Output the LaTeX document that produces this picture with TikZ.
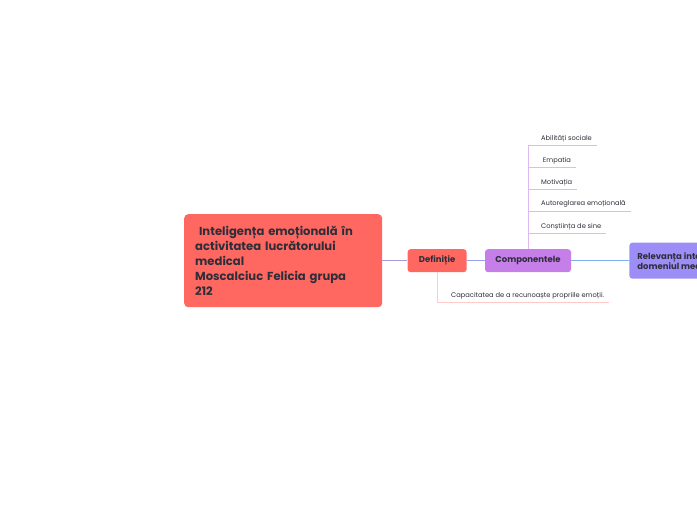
\documentclass[tikz,border=0pt]{standalone}
\usepackage{fontspec}
\setmainfont{Poppins}
\usetikzlibrary{positioning}
\definecolor{coral}{HTML}{FF6861}
\definecolor{orchid}{HTML}{C67EE8}
\definecolor{violet}{HTML}{9D8DF7}
\definecolor{ink}{HTML}{2E2E3A}
\definecolor{lavender}{HTML}{A99BDA}
\definecolor{periwinkle}{HTML}{92A4F2}
\definecolor{skyline}{HTML}{7FB2F0}
\tikzset{
  % Topic boxes
  maintopic/.style={
    fill=coral, rounded corners=4pt, text=ink, align=left,
    font=\bfseries\fontsize{11.6}{15}\selectfont,
    text width=176pt, inner xsep=11pt,
    minimum width=198pt, minimum height=93pt
  },
  subtopic/.style={
    rounded corners=3pt, text=ink, align=center,
    font=\bfseries\fontsize{8.5}{10}\selectfont,
    minimum height=23pt, inner xsep=6pt
  },
  % Leaf texts on an underline
  leaf/.style={
    anchor=south west, text=ink, inner xsep=0pt, inner ysep=3pt,
    font=\fontsize{6.7}{8}\selectfont
  },
  % Branch lines
  branch/.style={line width=0.8pt},
}

\begin{document}
\begin{tikzpicture}[x=1pt, y=-1pt, node distance=25pt]

  \useasboundingbox (0,0) rectangle (697,520);

  %% -- Topics --
  \node[maintopic, anchor=north west] (main) at (184,214)
    {~Inteligența emoțională în\\activitatea lucrătorului\\medical\\
     Moscalciuc Felicia grupa\\212};
  \node[subtopic, fill=coral, minimum width=59pt, right=25pt of main] (def) {Definiție};
  \node[subtopic, fill=orchid, minimum width=86pt, right=18pt of def] (comp) {Componentele};
  \node[subtopic, fill=violet, minimum height=36pt, align=left, anchor=west,
        inner xsep=8pt, right=58pt of comp] (rel)
    {Relevanța inteligenței emoționale în\\domeniul medical};

  %% -- Leaves --
  \node[leaf] (abil) at (541,145) {Abilități sociale};
  \node[leaf] (emp)  at (541,167) {~Empatia};
  \node[leaf] (mot)  at (541,189) {Motivația};
  \node[leaf] (auto) at (541,211) {Autoreglarea emoțională};
  \node[leaf] (cons) at (541,233) {Conștiința de sine};
  \node[leaf] (cap)  at (451,302) {Capacitatea de a recunoaște propriile emoții.};

  %% -- Connectors --
  \draw[branch, color=lavender] (main) -- (def);
  \draw[branch, color=periwinkle] (def) -- (comp);
  \draw[branch, color=skyline] (comp) -- (rel);

  \foreach \leafname in {abil, emp, mot, auto, cons}
    \draw[branch, color=orchid!55] (comp.north) |- ([xshift=5pt]\leafname.south east);

  \draw[branch, color=coral!35] (def.south) |- ([xshift=5pt]cap.south east);

\end{tikzpicture}
\end{document}
